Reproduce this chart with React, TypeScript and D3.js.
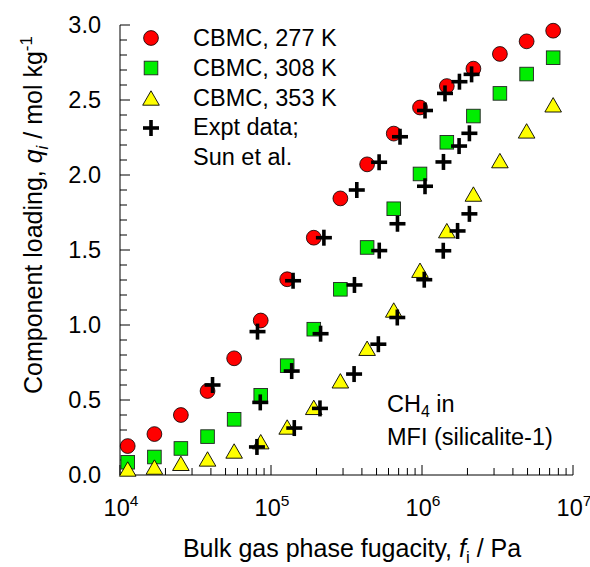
import React from "react";
import * as d3 from "d3";

// CBMC simulation fugacities (Pa), shared by all three temperatures
const fugacityCBMC = [
  1.125e4, 1.69e4, 2.53e4, 3.8e4, 5.7e4, 8.55e4, 1.28e5, 1.92e5, 2.88e5,
  4.33e5, 6.5e5, 9.7e5, 1.46e6, 2.19e6, 3.28e6, 4.93e6, 7.39e6,
];
const loading277 = [
  0.193, 0.273, 0.4, 0.56, 0.778, 1.03, 1.305, 1.582, 1.844, 2.071, 2.276,
  2.45, 2.593, 2.709, 2.807, 2.891, 2.962,
];
const loading308 = [
  0.085, 0.12, 0.177, 0.256, 0.371, 0.531, 0.729, 0.972, 1.238, 1.517, 1.775,
  2.007, 2.218, 2.393, 2.544, 2.673, 2.782,
];
const loading353 = [
  0.04, 0.053, 0.078, 0.107, 0.16, 0.222, 0.32, 0.451, 0.628, 0.845, 1.1,
  1.365, 1.629, 1.873, 2.096, 2.294, 2.468,
];

// Experimental data (Sun et al.)
const exptF277 = [4.1e4, 8.14e4, 1.4e5, 2.24e5, 3.7e5, 5.2e5, 7.15e5, 1.047e6, 1.42e6, 1.77e6, 2.13e6];
const exptQ277 = [0.6, 0.956, 1.295, 1.582, 1.9, 2.085, 2.255, 2.43, 2.544, 2.622, 2.671];
const exptF308 = [8.49e4, 1.371e5, 2.13e5, 3.57e5, 5.21e5, 6.88e5, 1.047e6, 1.387e6, 1.76e6, 2.06e6];
const exptQ308 = [0.484, 0.693, 0.942, 1.267, 1.496, 1.675, 1.925, 2.087, 2.193, 2.278];
const exptF353 = [8.07e4, 1.426e5, 2.11e5, 3.55e5, 5.14e5, 6.86e5, 1.035e6, 1.383e6, 1.72e6, 2.06e6];
const exptQ353 = [0.187, 0.313, 0.444, 0.673, 0.872, 1.05, 1.302, 1.495, 1.627, 1.741];

const yTicks = [0, 0.5, 1.0, 1.5, 2.0, 2.5, 3.0];
const xDecades = [4, 5, 6, 7];
const legendLabels = ["CBMC, 277 K", "CBMC, 308 K", "CBMC, 353 K", "Expt data;", "Sun et al."];

const FONT = "'Liberation Sans', Arial, sans-serif";
const FS = 23.5;
const FT = 25;

function Cross({ cx, cy }: { cx: number; cy: number }) {
  const h = 8;
  return (
    <g stroke="#000" strokeWidth={3.6}>
      <line x1={cx - h} x2={cx + h} y1={cy} y2={cy} />
      <line x1={cx} x2={cx} y1={cy - h} y2={cy + h} />
    </g>
  );
}
function Circle({ cx, cy }: { cx: number; cy: number }) {
  return <circle cx={cx} cy={cy} r={7.4} fill="#ff0000" stroke="#000" strokeWidth={0.8} />;
}
function Square({ cx, cy }: { cx: number; cy: number }) {
  return <rect x={cx - 6.8} y={cy - 6.8} width={13.6} height={13.6} fill="#00ee00" stroke="#222" strokeWidth={0.9} />;
}
function Tri({ cx, cy }: { cx: number; cy: number }) {
  const w = 8.3, t = 7.2;
  return (
    <path
      d={`M${cx},${cy - t} L${cx + w},${cy + t} L${cx - w},${cy + t} Z`}
      fill="#ffff00"
      stroke="#000"
      strokeWidth={0.9}
    />
  );
}

export default function App() {
  const x = d3.scaleLog().domain([1e4, 1e7]).range([120, 573]);
  const y = d3.scaleLinear().domain([0, 3]).range([475, 25]);

  const yMinor = d3.range(0, 31).map((i) => i / 10);
  const xMinor: number[] = [];
  for (let d = 4; d < 7; d++) for (let m = 2; m <= 9; m++) xMinor.push(m * Math.pow(10, d));

  const expt = [
    ...exptF277.map((f, i) => [f, exptQ277[i]]),
    ...exptF308.map((f, i) => [f, exptQ308[i]]),
    ...exptF353.map((f, i) => [f, exptQ353[i]]),
  ];

  return (
    <svg
      width={590}
      height={567}
      style={{ position: "absolute", left: 0, top: 0, background: "#fff" }}
      fontFamily={FONT}
    >
      <rect width={590} height={567} fill="#fff" />
      {/* axes */}
      <line x1={120} x2={120} y1={y(3)} y2={y(0)} stroke="#000" strokeWidth={1} />
      <line x1={120} x2={573} y1={y(0)} y2={y(0)} stroke="#000" strokeWidth={1} />
      {yMinor.map((v) => {
        const major = Math.abs(v * 2 - Math.round(v * 2)) < 1e-6;
        return (
          <line key={"ym" + v} x1={120} x2={120 + (major ? 10 : 7)} y1={y(v)} y2={y(v)} stroke="#000" strokeWidth={1} />
        );
      })}
      {xMinor.map((v) => (
        <line key={"xm" + v} x1={x(v)} x2={x(v)} y1={y(0)} y2={y(0) - 7} stroke="#000" strokeWidth={1} />
      ))}
      {xDecades.map((d) => (
        <line key={"xd" + d} x1={x(Math.pow(10, d))} x2={x(Math.pow(10, d))} y1={y(0)} y2={y(0) - 10} stroke="#000" strokeWidth={1} />
      ))}
      {yTicks.map((v) => (
        <text key={"yt" + v} x={101} y={y(v)} dy="0.36em" textAnchor="end" fontSize={FS} fill="#000">
          {v.toFixed(1)}
        </text>
      ))}
      {xDecades.map((d) => (
        <text key={"xt" + d} x={x(Math.pow(10, d)) + 1} y={516} textAnchor="middle" fontSize={FS} fill="#000">
          10
          <tspan fontSize={FS * 0.66} dy={-10}>{d}</tspan>
        </text>
      ))}
      {/* axis titles */}
      <text x={352} y={557} textAnchor="middle" fontSize={FT} fill="#000">
        Bulk gas phase fugacity, <tspan fontStyle="italic">f</tspan>
        <tspan fontSize={FT * 0.68} dy={6}>i</tspan>
        <tspan dy={-6}> / Pa</tspan>
      </text>
      <text transform="translate(42,215) rotate(-90)" textAnchor="middle" fontSize={FT} fill="#000">
        Component loading, <tspan fontStyle="italic">q</tspan>
        <tspan fontStyle="italic" fontSize={FT * 0.68} dy={6}>i</tspan>
        <tspan dy={-6}> / mol kg</tspan>
        <tspan fontSize={FT * 0.68} dy={-10}>-1</tspan>
      </text>

      {/* data */}
      {fugacityCBMC.map((f, i) => <Circle key={"r" + i} cx={x(f)} cy={y(loading277[i])} />)}
      {fugacityCBMC.map((f, i) => <Square key={"g" + i} cx={x(f)} cy={y(loading308[i])} />)}
      {fugacityCBMC.map((f, i) => <Tri key={"t" + i} cx={x(f)} cy={y(loading353[i])} />)}
      {expt.map((p, i) => <Cross key={"e" + i} cx={x(p[0])} cy={y(p[1])} />)}

      {/* legend */}
      <Circle cx={151} cy={38} />
      <Square cx={151} cy={68} />
      <Tri cx={151} cy={98} />
      <Cross cx={151} cy={128} />
      {legendLabels.map((l, i) => (
        <text key={l} x={193} y={46 + i * 29.8} fontSize={FS} fill="#000">
          {l}
        </text>
      ))}

      {/* annotation */}
      <text x={387} y={412} fontSize={FS} fill="#000">
        CH<tspan fontSize={FS * 0.68} dy={5}>4</tspan>
        <tspan dy={-5}> in</tspan>
      </text>
      <text x={387} y={445} fontSize={FS} fill="#000">
        MFI (silicalite-1)
      </text>
    </svg>
  );
}
